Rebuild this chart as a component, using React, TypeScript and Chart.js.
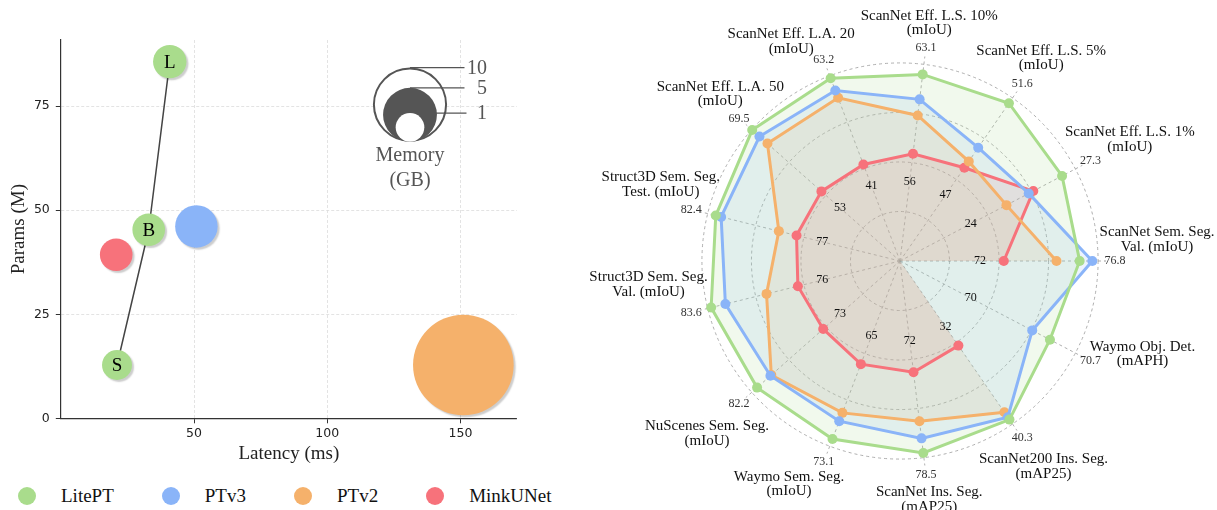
import React, { useEffect, useRef } from 'react';
import { Chart, registerables } from 'chart.js';

Chart.register(...registerables);

const SERIF = "'Liberation Serif', 'Times New Roman', serif";
const SANS = "'DejaVu Sans', sans-serif";

// ---------------- shared series ----------------
const MODELS = ['LitePT', 'PTv3', 'PTv2', 'MinkUNet'];
const COLORS = ['#a9dc8c', '#8ab4f8', '#f5b16b', '#f7727b'];

// ---------------- left: latency / params / memory ----------------
const LITEPT_SIZES = ['S', 'B', 'L'];
const LITEPT_LATENCY = [21.1, 33.0, 40.9];
const LITEPT_PARAMS = [12.8, 45.3, 85.7];
const LITEPT_MEMORY = [1.15, 1.47, 1.57];

const PTV3_LATENCY = [50.9];
const PTV3_PARAMS = [46.1];
const PTV3_MEMORY = [2.9];

const PTV2_LATENCY = [151.1];
const PTV2_PARAMS = [12.8];
const PTV2_MEMORY = [18.9];

const MINK_LATENCY = [20.8];
const MINK_PARAMS = [39.3];
const MINK_MEMORY = [1.47];

const MEMORY_LEGEND = [10, 5, 1];
const X_TICKS = [50, 100, 150];
const Y_TICKS = [0, 25, 50, 75];

// ---------------- right: radar (counter-clockwise from the right) ----------------
const RADAR_AXES = [
  'ScanNet Sem. Seg.\nVal. (mIoU)',
  'ScanNet Eff. L.S. 1%\n(mIoU)',
  'ScanNet Eff. L.S. 5%\n(mIoU)',
  'ScanNet Eff. L.S. 10%\n(mIoU)',
  'ScanNet Eff. L.A. 20\n(mIoU)',
  'ScanNet Eff. L.A. 50\n(mIoU)',
  'Struct3D Sem. Seg.\nTest. (mIoU)',
  'Struct3D Sem. Seg.\nVal. (mIoU)',
  'NuScenes Sem. Seg.\n(mIoU)',
  'Waymo Sem. Seg.\n(mIoU)',
  'ScanNet Ins. Seg.\n(mAP25)',
  'ScanNet200 Ins. Seg.\n(mAP25)',
  'Waymo Obj. Det.\n(mAPH)',
];
const AXIS_TOP_LABELS = ['76.8', '27.3', '51.6', '63.1', '63.2', '69.5', '82.4', '83.6', '82.2', '73.1', '78.5', '40.3', '70.7'];
const AXIS_LOW_LABELS = ['72', '24', '47', '56', '41', '53', '77', '76', '73', '65', '72', '32', '70'];

// normalised radial scores (0-100 = centre to outer ring)
const LITEPT_SCORE = [90.7, 92.4, 96.8, 94.9, 98.7, 99.7, 95.8, 98.2, 96.4, 96.1, 97.6, 97.3, 85.5];
const PTV3_SCORE = [97.1, 73.4, 69.5, 82.2, 92.1, 94.8, 93.0, 90.8, 87.4, 86.5, 90.2, 95.8, 75.4];
const PTV2_SCORE = [79.0, 60.7, 61.1, 74.0, 88.1, 89.4, 63.0, 69.4, 86.8, 82.0, 81.5, 92.8, null];
const MINK_SCORE = [52.4, 76.0, 57.2, 54.5, 52.1, 53.0, 53.8, 53.1, 51.8, 55.7, 56.6, 51.9, null];

// label layout nudges (px) of the axis name block relative to its value label
const LABEL_NUDGE: [number, number][] = [
  [42, -21.5], [39.3, -21.7], [19, -26], [3.3, -24.5], [-32.5, -18.3], [-18.7, -24.5],
  [-30.4, -24.8], [-42.6, -28], [-32, 30], [-34.7, 22], [3.3, 24.8], [21.3, 28.7], [52, -6.7],
];

// Chart.js goes clockwise: keep index 0, reverse the rest
function cw<T>(a: T[]): T[] {
  return [a[0], ...a.slice(1).reverse()];
}

function bubbleRadius(gb: number) {
  return Math.sqrt(130 * gb + 75);
}

function pts(xs: number[], ys: number[], ms: number[]) {
  return xs.map((x, i) => ({ x, y: ys[i], r: bubbleRadius(ms[i]) }));
}

function rgba(hex: string, a: number) {
  const n = parseInt(hex.slice(1), 16);
  return `rgba(${(n >> 16) & 255},${(n >> 8) & 255},${n & 255},${a})`;
}

const bubbleShadow = {
  id: 'bubbleShadow',
  beforeDatasetDraw(chart: any, args: any) {
    if (args.meta.type === 'bubble') {
      const c = chart.ctx;
      c.save();
      c.shadowColor = 'rgba(0,0,0,0.2)';
      c.shadowOffsetX = 2;
      c.shadowOffsetY = 2;
      c.shadowBlur = 1.5;
    }
  },
  afterDatasetDraw(chart: any, args: any) {
    if (args.meta.type === 'bubble') chart.ctx.restore();
  },
};

const bubbleDecor = {
  id: 'bubbleDecor',
  afterDatasetsDraw(chart: any) {
    const c = chart.ctx;
    const meta = chart.getDatasetMeta(0);
    c.save();
    c.fillStyle = '#000';
    c.font = `19px ${SERIF}`;
    c.textAlign = 'center';
    c.textBaseline = 'middle';
    meta.data.forEach((el: any, i: number) => c.fillText(LITEPT_SIZES[i], el.x, el.y + 1));
    c.restore();

    // memory size legend
    const { left, right, top, bottom } = chart.chartArea;
    const cx = left + 0.7656 * (right - left);
    const by = top + 0.2688 * (bottom - top);
    const rs = MEMORY_LEGEND.map(bubbleRadius);
    c.save();
    c.beginPath();
    c.arc(cx, by - rs[0], rs[0] - 1, 0, Math.PI * 2);
    c.fillStyle = '#fff';
    c.fill();
    c.lineWidth = 2;
    c.strokeStyle = '#555';
    c.stroke();
    c.lineWidth = 1.3;
    rs.forEach((r, i) => {
      c.beginPath();
      c.moveTo(cx, by - 2 * r);
      c.lineTo(cx + (i === 2 ? 56.5 : 54.5), by - 2 * r);
      c.stroke();
    });
    c.beginPath();
    c.arc(cx, by - rs[1], rs[1], 0, Math.PI * 2);
    c.fillStyle = '#555';
    c.fill();
    c.beginPath();
    c.arc(cx, by - rs[2], rs[2], 0, Math.PI * 2);
    c.fillStyle = '#fff';
    c.fill();
    c.fillStyle = '#555';
    c.font = `20px ${SERIF}`;
    c.textBaseline = 'middle';
    c.textAlign = 'right';
    rs.forEach((r, i) => c.fillText(String(MEMORY_LEGEND[i]), cx + 77, by - 2 * r + 1));
    c.textAlign = 'center';
    c.fillText('Memory', cx, by + 14);
    c.fillText('(GB)', cx, by + 39.5);
    c.restore();
  },
};

const radarLabels = {
  id: 'radarLabels',
  afterDraw(chart: any) {
    const c = chart.ctx;
    const s = chart.scales.r;
    const r100 = s.getDistanceFromCenterForValue(100);
    const names = cw(RADAR_AXES);
    const tops = cw(AXIS_TOP_LABELS);
    const lows = cw(AXIS_LOW_LABELS);
    const nudges = cw(LABEL_NUDGE);
    c.save();
    c.textAlign = 'center';
    c.textBaseline = 'middle';
    names.forEach((name, j) => {
      const ip = s.getPointPosition(j, r100 * 0.404);
      c.fillStyle = '#111';
      c.font = `12px ${SERIF}`;
      c.fillText(lows[j], ip.x, ip.y);
      const vp = s.getPointPosition(j, r100 * 1.086);
      c.fillStyle = '#333';
      c.fillText(tops[j], vp.x, vp.y);
      const [dx, dy] = nudges[j];
      const lines = name.split('\n');
      c.fillStyle = '#111';
      c.font = `15px ${SERIF}`;
      lines.forEach((ln, k) => {
        c.fillText(ln, vp.x + dx, vp.y + dy + (k - (lines.length - 1) / 2) * 14.5);
      });
    });
    c.restore();
  },
};

export default function App() {
  const bubbleRef = useRef<HTMLCanvasElement | null>(null);
  const radarRef = useRef<HTMLCanvasElement | null>(null);

  useEffect(() => {
    const tickFont = { family: SANS, size: 12.5 };
    const titleFont = { family: SERIF, size: 19 };
    const gridCommon = {
      color: '#dcdcdc',
      lineWidth: 0.8,
      tickColor: '#333',
      tickLength: 5,
      tickWidth: 1,
      tickBorderDash: [],
    };
    const borderCommon = { display: true, color: '#333', width: 1.2, dash: [3, 2] };

    const bubble = new Chart(bubbleRef.current as HTMLCanvasElement, {
      type: 'bubble',
      data: {
        datasets: [
          { label: MODELS[0], data: pts(LITEPT_LATENCY, LITEPT_PARAMS, LITEPT_MEMORY), backgroundColor: COLORS[0], borderWidth: 0, order: 1 },
          { label: MODELS[1], data: pts(PTV3_LATENCY, PTV3_PARAMS, PTV3_MEMORY), backgroundColor: COLORS[1], borderWidth: 0, order: 2 },
          { label: MODELS[2], data: pts(PTV2_LATENCY, PTV2_PARAMS, PTV2_MEMORY), backgroundColor: COLORS[2], borderWidth: 0, order: 3 },
          { label: MODELS[3], data: pts(MINK_LATENCY, MINK_PARAMS, MINK_MEMORY), backgroundColor: COLORS[3], borderWidth: 0, order: 4 },
          {
            type: 'line',
            label: 'LitePT scaling',
            data: LITEPT_LATENCY.map((x, i) => ({ x, y: LITEPT_PARAMS[i] })),
            borderColor: '#444',
            borderWidth: 1.5,
            pointRadius: 0,
            fill: false,
            tension: 0,
            order: 10,
          } as any,
        ],
      },
      options: {
        animation: false,
        responsive: false,
        events: [],
        clip: false as any,
        layout: { autoPadding: false, padding: { left: 0, top: 40, right: 13.1, bottom: 0 } },
        plugins: { legend: { display: false }, tooltip: { enabled: false } },
        scales: {
          x: {
            type: 'linear',
            min: 0,
            max: 171.2,
            afterBuildTicks: (ax: any) => { ax.ticks = X_TICKS.map((v) => ({ value: v })); },
            afterFit: (ax: any) => { ax.height = 51.7; },
            ticks: { font: tickFont, color: '#222', padding: 3, maxRotation: 0, autoSkip: false },
            grid: gridCommon,
            border: borderCommon,
            title: { display: true, text: 'Latency (ms)', font: titleFont, color: '#222', padding: { top: 0, bottom: 4.3 } },
          },
          y: {
            type: 'linear',
            min: 0,
            max: 90.9,
            afterBuildTicks: (ax: any) => { ax.ticks = Y_TICKS.map((v) => ({ value: v })); },
            afterFit: (ax: any) => { ax.width = 60.8; },
            ticks: { font: tickFont, color: '#222', padding: 6, autoSkip: false },
            grid: gridCommon,
            border: borderCommon,
            title: { display: true, text: 'Params (M)', font: titleFont, color: '#222', padding: { top: 7.2, bottom: 0 } },
          },
        },
      } as any,
      plugins: [bubbleShadow, bubbleDecor],
    });

    const series = [LITEPT_SCORE, PTV3_SCORE, PTV2_SCORE, MINK_SCORE];
    const radar = new Chart(radarRef.current as HTMLCanvasElement, {
      type: 'radar',
      data: {
        labels: cw(RADAR_AXES),
        datasets: series.map((vals, i) => ({
          label: MODELS[i],
          data: cw(vals as (number | null)[]),
          borderColor: COLORS[i],
          backgroundColor: rgba(COLORS[i], 0.16),
          borderWidth: 3,
          fill: 'origin',
          tension: 0,
          spanGaps: false,
          pointRadius: 5,
          pointBackgroundColor: COLORS[i],
          pointBorderWidth: 0,
        } as any)),
      },
      options: {
        animation: false,
        responsive: false,
        events: [],
        layout: { autoPadding: false, padding: { left: 134, top: 55, right: 111, bottom: 43 } },
        plugins: {
          legend: { display: false },
          tooltip: { enabled: false },
          filler: { drawTime: 'beforeDatasetsDraw' },
        },
        scales: {
          r: {
            min: 0,
            max: 104,
            startAngle: 90,
            ticks: { display: false, stepSize: 25, includeBounds: false },
            pointLabels: { display: false },
            grid: { circular: true, color: '#9a9a9a', lineWidth: 0.8 },
            border: { dash: [3, 3] },
            angleLines: { display: true, color: '#9a9a9a', lineWidth: 0.8, borderDash: [3, 3] },
          },
        },
      } as any,
      plugins: [radarLabels],
    });

    return () => {
      bubble.destroy();
      radar.destroy();
    };
  }, []);

  return (
    <div style={{ position: 'absolute', left: 0, top: 0, width: 1217, height: 510, background: '#fff', overflow: 'hidden' }}>
      <canvas ref={bubbleRef} width={530} height={470} style={{ position: 'absolute', left: 0, top: 0, width: 530, height: 470 }} />
      <canvas ref={radarRef} width={657} height={510} style={{ position: 'absolute', left: 560, top: 0, width: 657, height: 510 }} />
      <div
        style={{
          position: 'absolute', left: 18, top: 486, height: 19, display: 'flex', alignItems: 'center',
          fontFamily: SERIF, fontSize: 19, lineHeight: '19px', color: '#111', whiteSpace: 'nowrap',
        }}
      >
        {MODELS.map((m, i) => (
          <div key={m} style={{ display: 'flex', alignItems: 'center', marginRight: i < MODELS.length - 1 ? 48 : 0 }}>
            <span style={{ display: 'inline-block', width: 18, height: 18, borderRadius: '50%', background: COLORS[i], marginRight: 25 }} />
            <span>{m}</span>
          </div>
        ))}
      </div>
    </div>
  );
}
